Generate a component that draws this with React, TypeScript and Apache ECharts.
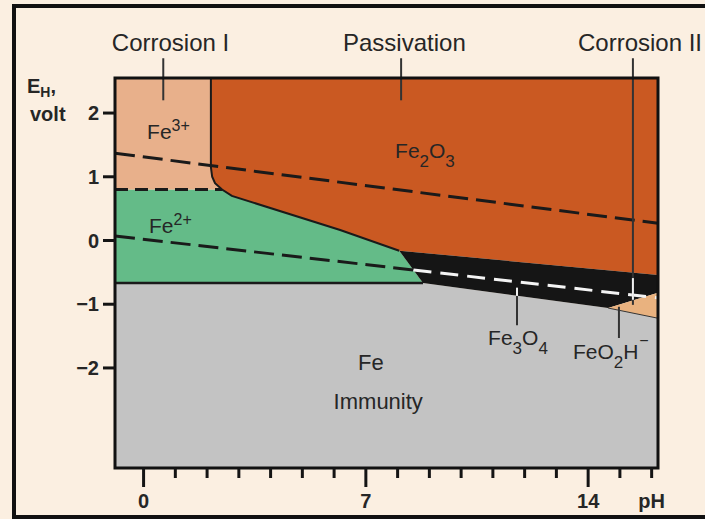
import { useEffect, useRef } from 'react';
import * as echarts from 'echarts';

// ---- axes ----
const phRange = [-0.9, 16.2];
const eRange = [-3.57, 2.55];
const phMinorTicks = [0, 1, 2, 3, 4, 5, 6, 7, 8, 9, 10, 11, 12, 13, 14, 15, 16];
const phMajorTicks = [0, 7, 14];
const phTickLabels = [0, 7, 14, 16]; // 16 carries the "pH" axis title
const eTicks = [-2, -1, 0, 1, 2];

// ---- stability regions (pH, E volt) ----
const fe3Region = [[-0.9, 2.55], [2.12, 2.55], [2.12, 1.15], [2.16, 1.0], [2.25, 0.9], [2.47, 0.8], [-0.9, 0.8]];
const fe2o3Region = [[2.12, 2.55], [16.2, 2.55], [16.2, -0.54], [8.05, -0.16], [6.19, 0.165], [2.78, 0.7], [2.47, 0.8], [2.25, 0.9], [2.16, 1.0], [2.12, 1.15]];
const fe2Region = [[-0.9, 0.8], [2.47, 0.8], [2.78, 0.7], [6.19, 0.165], [8.05, -0.16], [8.8, -0.667], [-0.9, -0.667]];
const fe3o4Region = [[8.05, -0.16], [16.2, -0.54], [16.2, -0.82], [14.63, -1.06], [8.8, -0.667]];
const feo2hRegion = [[14.63, -1.06], [16.2, -0.82], [16.2, -1.22]];
const feRegion = [[-0.9, -0.667], [8.8, -0.667], [14.63, -1.06], [16.2, -1.22], [16.2, -3.57], [-0.9, -3.57]];
const plotFrame = [[-0.9, 2.55], [16.2, 2.55], [16.2, -3.57], [-0.9, -3.57]];

// ---- boundary lines ----
const fe2o3Boundary = [[2.12, 2.55], [2.12, 1.15], [2.16, 1.0], [2.25, 0.9], [2.47, 0.8], [2.78, 0.7], [6.19, 0.165], [8.05, -0.16]];
const immunityBoundary = [[-0.9, -0.667], [8.8, -0.667]];
const feo2hBoundary = [[14.63, -1.06], [16.2, -1.22]];
const fe3Fe2Line = [[-0.9, 0.8], [2.47, 0.8]];
const oxygenLine = [[-0.9, 1.37], [16.2, 0.27]];
const hydrogenLineOnLight = [[-0.9, 0.07], [8.5, -0.463]];
const hydrogenLineOnBlack = [[8.5, -0.463], [16.2, -0.9]];

// ---- leader lines ----
const corrosion1Leader = [[0.62, 2.86], [0.62, 2.2]];
const passivationLeader = [[8.11, 2.86], [8.11, 2.2]];
const corrosion2Leader = [[15.41, 2.86], [15.41, -1.01]];
const corrosion2LeaderOnBlack = [[15.41, -0.59], [15.41, -0.93]];
const fe3o4Leader = [[11.76, -0.74], [11.76, -1.33]];
const fe3o4LeaderOnBlack = [[11.76, -0.74], [11.76, -0.87]];
const feo2hLeader = [[14.97, -1.04], [14.97, -1.53]];

// ---- labels ----
const headingTexts = ['Corrosion I', 'Passivation', 'Corrosion II'];
const headingAnchors = [[-1.0, 3.1], [6.28, 3.1], [13.68, 3.1]];
const speciesTexts = ['Fe{sup|3+}', 'Fe{sub|2}O{sub|3}', 'Fe{sup|2+}', 'Fe{sub|3}O{sub|4}', 'FeO{sub|2}H{supm|−}'];
const speciesAnchors = [[0.11, 1.71], [7.92, 1.42], [0.17, 0.24], [10.85, -1.52], [13.52, -1.74]];
const immunityTexts = ['Fe', 'Immunity'];
const immunityAnchors = [[7.16, -1.91], [7.39, -2.52]];

const FONT = '"Liberation Sans", Arial, sans-serif';
const INK = '#262626';
const TICK = '#141414';

function polygonSeries(points: number[][], fill: string, z: number, stroke?: string, lineWidth?: number) {
  return {
    type: 'custom',
    coordinateSystem: 'cartesian2d',
    z,
    silent: true,
    clip: false,
    data: [[0, 0]],
    renderItem: (_p: any, api: any) => ({
      type: 'polygon',
      shape: { points: points.map((pt) => api.coord(pt)) },
      style: { fill, stroke: stroke || 'none', lineWidth: lineWidth || 0 },
    }),
  };
}

function lineSeries(points: number[][], stroke: string, lineWidth: number, z: number, lineDash?: number[]) {
  return {
    type: 'custom',
    coordinateSystem: 'cartesian2d',
    z,
    silent: true,
    clip: false,
    data: [[0, 0]],
    renderItem: (_p: any, api: any) => ({
      type: 'polyline',
      shape: { points: points.map((pt) => api.coord(pt)) },
      style: { stroke, lineWidth, fill: 'none', lineDash: lineDash || null, lineCap: 'butt' },
    }),
  };
}

// tick marks placed through the axis scales
function xTickSeries() {
  return {
    type: 'custom',
    coordinateSystem: 'cartesian2d',
    z: 6,
    silent: true,
    clip: false,
    data: phMinorTicks.map((v) => [v, eRange[0]]),
    renderItem: (params: any, api: any) => {
      const v = phMinorTicks[params.dataIndex];
      const [x, y] = api.coord([v, eRange[0]]);
      const len = phMajorTicks.indexOf(v) >= 0 ? 19 : 10;
      return { type: 'line', shape: { x1: x, y1: y, x2: x, y2: y + len }, style: { stroke: TICK, lineWidth: 3 } };
    },
  };
}

function yTickSeries() {
  return {
    type: 'custom',
    coordinateSystem: 'cartesian2d',
    z: 6,
    silent: true,
    clip: false,
    data: eTicks.map((v) => [phRange[0], v]),
    renderItem: (params: any, api: any) => {
      const v = eTicks[params.dataIndex];
      const [x, y] = api.coord([phRange[0], v]);
      return { type: 'line', shape: { x1: x - 12, y1: y, x2: x, y2: y }, style: { stroke: TICK, lineWidth: 3 } };
    },
  };
}

const richStyles = {
  sub: { fontSize: 17, lineHeight: 16, verticalAlign: 'bottom', fontFamily: FONT, fill: INK },
  sup: { fontSize: 16, verticalAlign: 'top', padding: [6, 0, 0, 0], fontFamily: FONT, fill: INK },
  supm: { fontSize: 16, verticalAlign: 'top', padding: [1, 0, 0, 1], fontFamily: FONT, fill: INK },
};

function textSeries(texts: string[], anchors: number[][], fontSize: number, align: string, z: number) {
  return {
    type: 'custom',
    coordinateSystem: 'cartesian2d',
    z,
    silent: true,
    clip: false,
    data: texts.map((_t, i) => [i, 0]),
    renderItem: (params: any, api: any) => {
      const i = params.dataIndex;
      const [x, y] = api.coord(anchors[i]);
      return {
        type: 'text',
        x,
        y,
        style: {
          text: texts[i],
          fill: INK,
          fontFamily: FONT,
          fontSize,
          lineHeight: 40,
          align,
          verticalAlign: 'middle',
          rich: richStyles,
        },
      };
    },
  };
}

export default function App() {
  const ref = useRef<HTMLDivElement>(null);
  useEffect(() => {
    if (!ref.current) return;
    const chart = echarts.init(ref.current, null, { renderer: 'svg' });
    chart.setOption({
      animation: false,
      backgroundColor: '#fbefe1',
      grid: { left: 115, right: 47, top: 78, bottom: 51 },
      xAxis: {
        type: 'value',
        min: phRange[0],
        max: phRange[1],
        splitLine: { show: false },
        axisLine: { show: false },
        axisTick: { show: false },
        axisLabel: {
          show: true,
          customValues: phTickLabels,
          margin: 23,
          fontFamily: FONT,
          fontSize: 20,
          fontWeight: 'bold',
          color: INK,
          formatter: (v: number) => (v === 16 ? 'pH' : String(v)),
        },
      },
      yAxis: {
        type: 'value',
        min: eRange[0],
        max: eRange[1],
        splitLine: { show: false },
        axisLine: { show: false },
        axisTick: { show: false },
        axisLabel: {
          show: true,
          customValues: eTicks,
          margin: 16,
          fontFamily: FONT,
          fontSize: 20,
          fontWeight: 'bold',
          color: INK,
          formatter: (v: number) => (v < 0 ? '−' + Math.abs(v) : String(v)),
        },
      },
      graphic: [
        {
          type: 'rect',
          shape: { x: 14, y: 6, width: 720, height: 511 },
          style: { fill: 'none', stroke: '#111', lineWidth: 4 },
          z: 100,
        },
        {
          type: 'text',
          x: 27,
          y: 86,
          style: {
            text: 'E{sub|H},',
            fontFamily: FONT,
            fontSize: 20,
            fontWeight: 'bold',
            fill: INK,
            lineHeight: 26,
            verticalAlign: 'middle',
            rich: { sub: { fontSize: 14, fontWeight: 'bold', lineHeight: 12, verticalAlign: 'bottom', fontFamily: FONT, fill: INK } },
          },
        },
        {
          type: 'text',
          x: 30,
          y: 114,
          style: { text: 'volt', fontFamily: FONT, fontSize: 20, fontWeight: 'bold', fill: INK, verticalAlign: 'middle' },
        },
      ],
      series: [
        polygonSeries(feRegion, '#c3c3c3', 1),
        polygonSeries(fe2Region, '#64bb88', 1),
        polygonSeries(fe3Region, '#e8b08b', 1),
        polygonSeries(fe2o3Region, '#ca5922', 1),
        polygonSeries(fe3o4Region, '#151515', 1),
        polygonSeries(feo2hRegion, '#e9b27f', 1),
        lineSeries(fe2o3Boundary, '#1a1a1a', 2, 3),
        lineSeries(immunityBoundary, '#1a1a1a', 2.5, 3),
        lineSeries(feo2hBoundary, '#333', 1, 3),
        lineSeries(fe3Fe2Line, '#1a1a1a', 3, 4, [13, 7]),
        lineSeries(oxygenLine, '#1a1a1a', 3, 4, [20, 8]),
        lineSeries(hydrogenLineOnLight, '#1a1a1a', 3, 4, [20, 8]),
        lineSeries(hydrogenLineOnBlack, '#f4f4f4', 3, 4, [18, 9]),
        lineSeries(corrosion1Leader, '#333', 2, 4),
        lineSeries(passivationLeader, '#333', 2, 4),
        lineSeries(corrosion2Leader, '#333', 2, 4),
        lineSeries(corrosion2LeaderOnBlack, '#f0f0f0', 2, 5),
        lineSeries(fe3o4Leader, '#333', 2, 4),
        lineSeries(fe3o4LeaderOnBlack, '#f0f0f0', 2, 5),
        lineSeries(feo2hLeader, '#333', 2, 4),
        polygonSeries(plotFrame, 'none', 6, '#111', 3),
        xTickSeries(),
        yTickSeries(),
        textSeries(headingTexts, headingAnchors, 24, 'left', 7),
        textSeries(speciesTexts, speciesAnchors, 21, 'left', 7),
        textSeries(immunityTexts, immunityAnchors, 22, 'center', 7),
      ],
    });
    return () => chart.dispose();
  }, []);
  return (
    <div
      ref={ref}
      style={{ position: 'fixed', left: 0, top: 0, width: 705, height: 519 }}
    />
  );
}
